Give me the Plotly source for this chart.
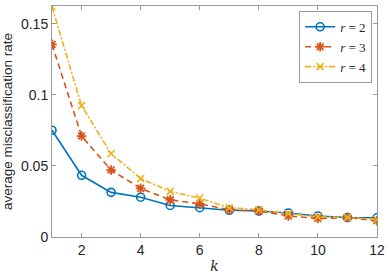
import plotly.graph_objects as go

k = list(range(1, 13))
r2 = [0.0751, 0.0434, 0.0314, 0.0280, 0.0222, 0.0206, 0.0188, 0.0183, 0.0169, 0.0148, 0.0137, 0.0135]
r3 = [0.1355, 0.0710, 0.0471, 0.0342, 0.0261, 0.0233, 0.0192, 0.0183, 0.0148, 0.0130, 0.0137, 0.0114]
r4 = [0.1620, 0.0924, 0.0586, 0.0411, 0.0321, 0.0273, 0.0206, 0.0192, 0.0164, 0.0142, 0.0137, 0.0123]
names = ["<i>r</i> = 2", "<i>r</i> = 3", "<i>r</i> = 4"]
yticks = [0, 0.05, 0.1, 0.15]
yticklabels = ["0", "0.05", "0.1", "0.15"]
xticks = [2, 4, 6, 8, 10, 12]

fig = go.Figure()
fig.add_trace(go.Scatter(x=k, y=r2, name=names[0], mode="lines+markers",
                         line=dict(color="#0072BD", width=1.6),
                         marker=dict(symbol="circle-open", size=8, color="#0072BD", line=dict(width=1.6))))
fig.add_trace(go.Scatter(x=k, y=r3, name=names[1], mode="lines+markers",
                         line=dict(color="#D95319", width=1.6, dash="6px,4px"),
                         marker=dict(symbol="asterisk-open", size=8, color="#D95319", line=dict(width=1.8, color="#D95319"))))
fig.add_trace(go.Scatter(x=k, y=r4, name=names[2], mode="lines+markers",
                         line=dict(color="#EDB120", width=1.6, dash="6px,2px,2px,2px"),
                         marker=dict(symbol="x-thin-open", size=7, color="#EDB120", line=dict(width=1.6, color="#EDB120"))))

axis_common = dict(showgrid=False, zeroline=False, showline=True, linecolor="#9a9a9a", linewidth=1,
                   mirror="ticks", ticks="inside", ticklen=4, tickcolor="#9a9a9a",
                   tickfont=dict(family="Liberation Sans, Arial", size=14, color="#262626"))

fig.update_layout(
    width=390, height=277,
    margin=dict(l=52, r=10, t=5, b=37),
    paper_bgcolor="white", plot_bgcolor="white",
    xaxis=dict(range=[1, 12], tickvals=xticks,
               title=dict(text="<i>k</i>", font=dict(family="DejaVu Serif, Liberation Serif", size=14, color="#262626"), standoff=4),
               **axis_common),
    yaxis=dict(range=[0, 0.1625], tickvals=yticks, ticktext=yticklabels,
               title=dict(text="average misclassification rate", font=dict(family="Liberation Sans, Arial", size=13.5, color="#262626"), standoff=6),
               **axis_common),
    legend=dict(x=0.985, y=0.979, xanchor="right", yanchor="top",
                bgcolor="white", bordercolor="#9a9a9a", borderwidth=1,
                font=dict(family="Liberation Serif, DejaVu Serif", size=13, color="#262626"),
                itemwidth=30, tracegroupgap=0),
    showlegend=True,
)

fig.write_html("out.html", config={"displayModeBar": False},
               post_script="document.body.style.margin='0';document.body.style.overflow='hidden';")
